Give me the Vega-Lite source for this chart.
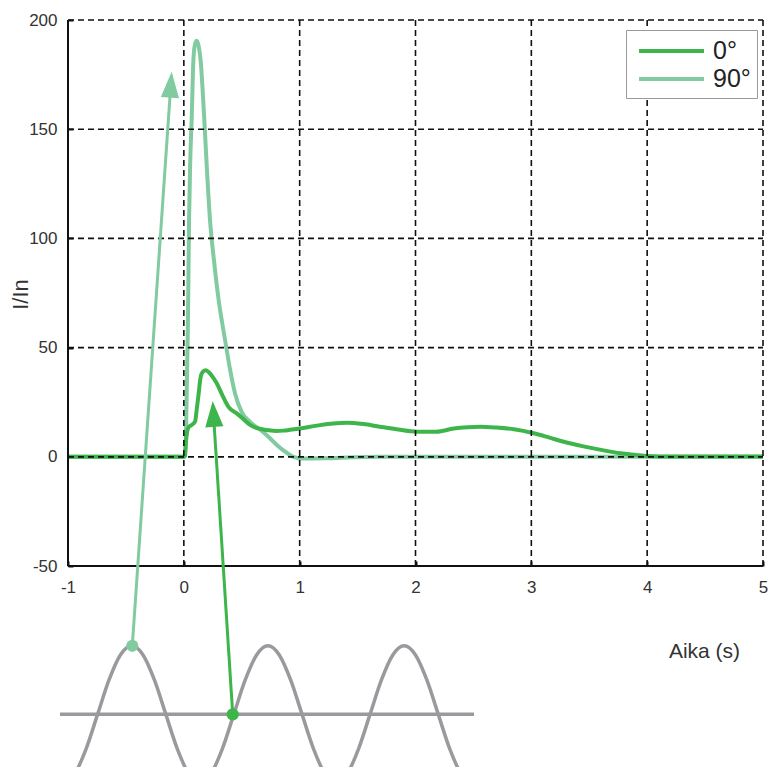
{
  "$schema": "https://vega.github.io/schema/vega-lite/v6.json",
  "width": 695,
  "height": 747,
  "autosize": {"type": "none"},
  "padding": {"left": 68, "top": 20, "right": 6, "bottom": 0},
  "config": {
    "view": {"stroke": null},
    "font": "Liberation Sans",
    "axis": {"labelFont": "Liberation Sans", "titleFont": "Liberation Sans", "labelColor": "#333", "titleColor": "#333"},
    "legend": {"labelFont": "Liberation Sans"}
  },
  "datasets": {
    "curves": [
      {"series": "90°", "x": -1, "y": 0}, {"series": "90°", "x": 0, "y": 0}, {"series": "90°", "x": 0.012, "y": 0.5},
      {"series": "90°", "x": 0.02, "y": 15}, {"series": "90°", "x": 0.035, "y": 60}, {"series": "90°", "x": 0.045, "y": 108},
      {"series": "90°", "x": 0.055, "y": 135}, {"series": "90°", "x": 0.068, "y": 155}, {"series": "90°", "x": 0.082, "y": 181},
      {"series": "90°", "x": 0.095, "y": 188.5}, {"series": "90°", "x": 0.111, "y": 190.5}, {"series": "90°", "x": 0.128, "y": 188},
      {"series": "90°", "x": 0.146, "y": 181}, {"series": "90°", "x": 0.16, "y": 170}, {"series": "90°", "x": 0.177, "y": 154},
      {"series": "90°", "x": 0.2, "y": 131}, {"series": "90°", "x": 0.226, "y": 108.4}, {"series": "90°", "x": 0.26, "y": 90},
      {"series": "90°", "x": 0.3, "y": 72}, {"series": "90°", "x": 0.356, "y": 53.5}, {"series": "90°", "x": 0.399, "y": 40},
      {"series": "90°", "x": 0.442, "y": 29}, {"series": "90°", "x": 0.5, "y": 20.5}, {"series": "90°", "x": 0.572, "y": 16},
      {"series": "90°", "x": 0.658, "y": 12.5}, {"series": "90°", "x": 0.744, "y": 8.5}, {"series": "90°", "x": 0.8, "y": 5.5},
      {"series": "90°", "x": 0.859, "y": 3}, {"series": "90°", "x": 0.946, "y": 0}, {"series": "90°", "x": 1.03, "y": -0.8},
      {"series": "90°", "x": 1.2, "y": -0.7}, {"series": "90°", "x": 1.4, "y": -0.3}, {"series": "90°", "x": 1.7, "y": 0},
      {"series": "90°", "x": 5, "y": 0},
      {"series": "0°", "x": -1, "y": 0}, {"series": "0°", "x": 0, "y": 0}, {"series": "0°", "x": 0.008, "y": 0.3},
      {"series": "0°", "x": 0.02, "y": 8}, {"series": "0°", "x": 0.04, "y": 13.5}, {"series": "0°", "x": 0.065, "y": 14.5},
      {"series": "0°", "x": 0.097, "y": 16.1}, {"series": "0°", "x": 0.112, "y": 22}, {"series": "0°", "x": 0.125, "y": 27.6},
      {"series": "0°", "x": 0.146, "y": 36.7}, {"series": "0°", "x": 0.165, "y": 39}, {"series": "0°", "x": 0.19, "y": 39.7},
      {"series": "0°", "x": 0.22, "y": 38.5}, {"series": "0°", "x": 0.25, "y": 36.5}, {"series": "0°", "x": 0.284, "y": 33.7},
      {"series": "0°", "x": 0.33, "y": 28.5}, {"series": "0°", "x": 0.385, "y": 22.9}, {"series": "0°", "x": 0.457, "y": 19.9},
      {"series": "0°", "x": 0.51, "y": 17.5}, {"series": "0°", "x": 0.572, "y": 14.6}, {"series": "0°", "x": 0.64, "y": 13},
      {"series": "0°", "x": 0.716, "y": 12.3}, {"series": "0°", "x": 0.8, "y": 11.8}, {"series": "0°", "x": 0.86, "y": 12},
      {"series": "0°", "x": 0.93, "y": 12.5}, {"series": "0°", "x": 1.0, "y": 13}, {"series": "0°", "x": 1.15, "y": 14.3},
      {"series": "0°", "x": 1.29, "y": 15.3}, {"series": "0°", "x": 1.41, "y": 15.6}, {"series": "0°", "x": 1.55, "y": 15},
      {"series": "0°", "x": 1.69, "y": 13.8}, {"series": "0°", "x": 1.85, "y": 12.5}, {"series": "0°", "x": 2.01, "y": 11.5},
      {"series": "0°", "x": 2.18, "y": 11.5}, {"series": "0°", "x": 2.33, "y": 13}, {"series": "0°", "x": 2.45, "y": 13.6},
      {"series": "0°", "x": 2.56, "y": 13.8}, {"series": "0°", "x": 2.7, "y": 13.4}, {"series": "0°", "x": 2.85, "y": 12.6},
      {"series": "0°", "x": 3.02, "y": 10.8}, {"series": "0°", "x": 3.15, "y": 8.9}, {"series": "0°", "x": 3.28, "y": 6.9},
      {"series": "0°", "x": 3.45, "y": 4.8}, {"series": "0°", "x": 3.59, "y": 3.3}, {"series": "0°", "x": 3.77, "y": 1.6},
      {"series": "0°", "x": 3.9, "y": 0.9}, {"series": "0°", "x": 4.0, "y": 0.4}, {"series": "0°", "x": 4.2, "y": 0.1},
      {"series": "0°", "x": 5, "y": 0.1}
    ],
    "grid": [
      {"x1": 0, "x2": 0, "y1": -50, "y2": 200}, {"x1": 1, "x2": 1, "y1": -50, "y2": 200},
      {"x1": 2, "x2": 2, "y1": -50, "y2": 200}, {"x1": 3, "x2": 3, "y1": -50, "y2": 200},
      {"x1": 4, "x2": 4, "y1": -50, "y2": 200}, {"x1": 5, "x2": 5, "y1": -50, "y2": 200},
      {"x1": -1, "x2": 5, "y1": 0, "y2": 0}, {"x1": -1, "x2": 5, "y1": 50, "y2": 50},
      {"x1": -1, "x2": 5, "y1": 100, "y2": 100}, {"x1": -1, "x2": 5, "y1": 150, "y2": 150},
      {"x1": -1, "x2": 5, "y1": 200, "y2": 200}
    ],
    "frame": [
      {"x1": -1, "x2": -1, "y1": -50, "y2": 200}, {"x1": -1, "x2": 5, "y1": -50, "y2": -50}
    ],
    "baseline": [{"x1": -1.069, "x2": 2.505, "y1": -117.8, "y2": -117.8}],
    "sine": [
      {"x": -1.038, "y": -149.1}, {"x": -0.94, "y": -144.9}, {"x": -0.842, "y": -133.45}, {"x": -0.744, "y": -117.8},
      {"x": -0.646, "y": -102.15}, {"x": -0.548, "y": -90.7}, {"x": -0.45, "y": -86.5}, {"x": -0.352, "y": -90.7},
      {"x": -0.254, "y": -102.15}, {"x": -0.156, "y": -117.8}, {"x": -0.058, "y": -133.45}, {"x": 0.04, "y": -144.9},
      {"x": 0.138, "y": -149.1}, {"x": 0.236, "y": -144.9}, {"x": 0.334, "y": -133.45}, {"x": 0.432, "y": -117.8},
      {"x": 0.53, "y": -102.15}, {"x": 0.628, "y": -90.7}, {"x": 0.726, "y": -86.5}, {"x": 0.824, "y": -90.7},
      {"x": 0.922, "y": -102.15}, {"x": 1.02, "y": -117.8}, {"x": 1.118, "y": -133.45}, {"x": 1.216, "y": -144.9},
      {"x": 1.314, "y": -149.1}, {"x": 1.412, "y": -144.9}, {"x": 1.51, "y": -133.45}, {"x": 1.608, "y": -117.8},
      {"x": 1.706, "y": -102.15}, {"x": 1.804, "y": -90.7}, {"x": 1.902, "y": -86.5}, {"x": 2.0, "y": -90.7},
      {"x": 2.098, "y": -102.15}, {"x": 2.196, "y": -117.8}, {"x": 2.294, "y": -133.45}, {"x": 2.392, "y": -144.9},
      {"x": 2.49, "y": -149.1}
    ],
    "arrows": [
      {"series": "90°", "x0": -0.445, "y0": -86.5, "x1": -0.1125, "y1": 170.4, "tx": -0.105, "ty": 176.3},
      {"series": "0°", "x0": 0.422, "y0": -117.9, "x1": 0.256, "y1": 19.6, "tx": 0.249, "ty": 25.6}
    ]
  },
  "layer": [
    {
      "data": {"name": "curves"},
      "transform": [{"filter": "datum.series === '90°'"}],
      "mark": {"type": "line", "strokeWidth": 4, "interpolate": "monotone"},
      "encoding": {
        "x": {"field": "x", "type": "quantitative", "scale": {"domain": [-1, 5], "nice": false, "zero": false},
          "axis": {"values": [-1, 0, 1, 2, 3, 4, 5], "grid": false, "ticks": true, "tickSize": -5, "tickWidth": 2, "tickColor": "#111",
            "domain": false, "offset": -201,
            "labelFontSize": 17, "labelPadding": 18, "labelFlush": false, "labelExpr": "'' + datum.value",
            "title": "Aika (s)", "titleFontSize": 21, "titleFontWeight": "normal", "titleX": 636, "titleY": 91,
            "titleAlign": "center", "titleBaseline": "alphabetic"}},
        "y": {"field": "y", "type": "quantitative", "scale": {"domain": [-142, 200], "nice": false, "zero": false},
          "axis": {"values": [-50, 0, 50, 100, 150, 200], "grid": false, "ticks": true, "tickSize": -5, "tickWidth": 2, "tickColor": "#111",
            "domain": false,
            "labelFontSize": 17, "labelPadding": 16, "labelFlush": false, "labelExpr": "'' + datum.value",
            "title": "I/In", "titleFontSize": 22, "titleFontWeight": "normal", "titleX": -48, "titleY": 274,
            "titleAlign": "center", "titleBaseline": "middle"}},
        "color": {"field": "series", "type": "nominal",
          "scale": {"domain": ["0°", "90°"], "range": ["#3db54b", "#82cba1"]},
          "legend": {"title": null, "orient": "none", "legendX": 558, "legendY": 10,
            "fillColor": "white", "strokeColor": "#999", "padding": 6, "rowPadding": 0,
            "symbolType": "M-1.15,0H3.85", "symbolSize": 676, "symbolStrokeWidth": 4,
            "labelFontSize": 25, "labelColor": "#222", "labelOffset": 44, "symbolOffset": 7}}
      }
    },
    {
      "data": {"name": "curves"},
      "transform": [{"filter": "datum.series === '0°'"}],
      "mark": {"type": "line", "strokeWidth": 4, "interpolate": "monotone"},
      "encoding": {
        "x": {"field": "x", "type": "quantitative", "scale": {"domain": [-1, 5], "nice": false, "zero": false}},
        "y": {"field": "y", "type": "quantitative", "scale": {"domain": [-142, 200], "nice": false, "zero": false}},
        "color": {"field": "series", "type": "nominal", "scale": {"domain": ["0°", "90°"], "range": ["#3db54b", "#82cba1"]}}
      }
    },
    {
      "data": {"name": "grid"},
      "mark": {"type": "rule", "color": "#111", "strokeWidth": 1.6, "strokeDash": [6, 4]},
      "encoding": {
        "x": {"field": "x1", "type": "quantitative", "scale": {"domain": [-1, 5], "nice": false, "zero": false}},
        "x2": {"field": "x2"},
        "y": {"field": "y1", "type": "quantitative", "scale": {"domain": [-142, 200], "nice": false, "zero": false}},
        "y2": {"field": "y2"}
      }
    },
    {
      "data": {"name": "frame"},
      "mark": {"type": "rule", "color": "#111", "strokeWidth": 2},
      "encoding": {
        "x": {"field": "x1", "type": "quantitative", "scale": {"domain": [-1, 5], "nice": false, "zero": false}},
        "x2": {"field": "x2"},
        "y": {"field": "y1", "type": "quantitative", "scale": {"domain": [-142, 200], "nice": false, "zero": false}},
        "y2": {"field": "y2"}
      }
    },
    {
      "data": {"name": "baseline"},
      "mark": {"type": "rule", "color": "#9a9a9e", "strokeWidth": 3.5},
      "encoding": {
        "x": {"field": "x1", "type": "quantitative", "scale": {"domain": [-1, 5], "nice": false, "zero": false}},
        "x2": {"field": "x2"},
        "y": {"field": "y1", "type": "quantitative", "scale": {"domain": [-142, 200], "nice": false, "zero": false}},
        "y2": {"field": "y2"}
      }
    },
    {
      "data": {"name": "sine"},
      "mark": {"type": "line", "color": "#9a9a9e", "strokeWidth": 3.5, "interpolate": "monotone"},
      "encoding": {
        "x": {"field": "x", "type": "quantitative", "scale": {"domain": [-1, 5], "nice": false, "zero": false}},
        "y": {"field": "y", "type": "quantitative", "scale": {"domain": [-142, 200], "nice": false, "zero": false}}
      }
    },
    {
      "data": {"name": "arrows"},
      "transform": [{"filter": "datum.series === '90°'"}],
      "layer": [
        {
          "mark": {"type": "rule", "color": "#82cba1", "strokeWidth": 3},
          "encoding": {
            "x": {"field": "x0", "type": "quantitative", "scale": {"domain": [-1, 5], "nice": false, "zero": false}},
            "x2": {"field": "x1"},
            "y": {"field": "y0", "type": "quantitative", "scale": {"domain": [-142, 200], "nice": false, "zero": false}},
            "y2": {"field": "y1"}
          }
        },
        {
          "mark": {"type": "point", "shape": "M0,0L0.35,1L-0.35,1Z", "size": 2704, "angle": 3.9, "filled": true, "color": "#82cba1", "opacity": 1},
          "encoding": {
            "x": {"field": "tx", "type": "quantitative", "scale": {"domain": [-1, 5], "nice": false, "zero": false}},
            "y": {"field": "ty", "type": "quantitative", "scale": {"domain": [-142, 200], "nice": false, "zero": false}}
          }
        },
        {
          "mark": {"type": "circle", "size": 150, "color": "#82cba1", "opacity": 1},
          "encoding": {
            "x": {"field": "x0", "type": "quantitative", "scale": {"domain": [-1, 5], "nice": false, "zero": false}},
            "y": {"field": "y0", "type": "quantitative", "scale": {"domain": [-142, 200], "nice": false, "zero": false}}
          }
        }
      ]
    },
    {
      "data": {"name": "arrows"},
      "transform": [{"filter": "datum.series === '0°'"}],
      "layer": [
        {
          "mark": {"type": "rule", "color": "#3db54b", "strokeWidth": 3},
          "encoding": {
            "x": {"field": "x0", "type": "quantitative", "scale": {"domain": [-1, 5], "nice": false, "zero": false}},
            "x2": {"field": "x1"},
            "y": {"field": "y0", "type": "quantitative", "scale": {"domain": [-142, 200], "nice": false, "zero": false}},
            "y2": {"field": "y1"}
          }
        },
        {
          "mark": {"type": "point", "shape": "M0,0L0.35,1L-0.35,1Z", "size": 2704, "angle": 356.3, "filled": true, "color": "#3db54b", "opacity": 1},
          "encoding": {
            "x": {"field": "tx", "type": "quantitative", "scale": {"domain": [-1, 5], "nice": false, "zero": false}},
            "y": {"field": "ty", "type": "quantitative", "scale": {"domain": [-142, 200], "nice": false, "zero": false}}
          }
        },
        {
          "mark": {"type": "circle", "size": 150, "color": "#3db54b", "opacity": 1},
          "encoding": {
            "x": {"field": "x0", "type": "quantitative", "scale": {"domain": [-1, 5], "nice": false, "zero": false}},
            "y": {"field": "y0", "type": "quantitative", "scale": {"domain": [-142, 200], "nice": false, "zero": false}}
          }
        }
      ]
    }
  ]
}
